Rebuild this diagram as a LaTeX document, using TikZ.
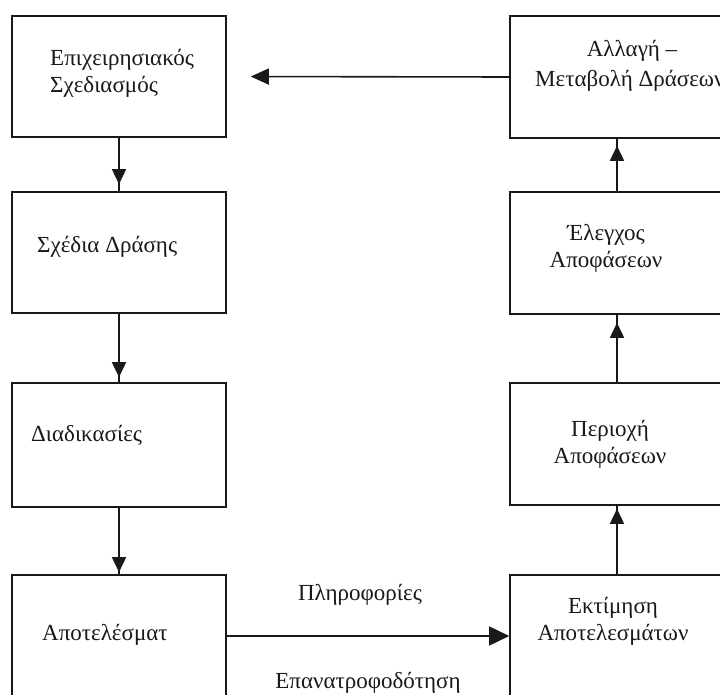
\documentclass[tikz,border=0pt]{standalone}
\usepackage{fontspec}
\setmainfont{Liberation Serif}
\usetikzlibrary{arrows.meta,decorations.markings}
\tikzset{
  box/.style={draw=black!90, line width=1.6pt, rectangle, minimum width=214pt, inner sep=0pt},
  lbl/.style={font=\fontsize{23}{27}\selectfont, inner sep=0pt, text=black!90},
  conn/.style={draw=black!90, line width=1.6pt},
  markarrow/.style={postaction=decorate, decoration={markings, mark=at position #1 with {\arrow{Triangle[length=15pt,width=14pt]}}}}
}
\begin{document}
\begin{tikzpicture}[x=1pt,y=-1pt]
\useasboundingbox (0,0) rectangle (720,695);
\clip (0,0) rectangle (720,695);
\fill[white] (0,0) rectangle (720,695);
% left column
\node[box, minimum height=121pt] (L1) at (119,76.5) {};
\node[box, minimum height=121pt] (L2) at (119,252.5) {};
\node[box, minimum height=124pt] (L3) at (119,445) {};
\node[box, minimum height=122pt] (L4) at (119,636) {};
% right column
\node[box, minimum height=122pt] (R1) at (617,77) {};
\node[box, minimum height=122pt] (R2) at (617,253) {};
\node[box, minimum height=122pt] (R3) at (617,444) {};
\node[box, minimum height=122pt] (R4) at (617,636) {};
% texts
\node[lbl, anchor=west, align=left] (t1) at (50,73) {Επιχειρησιακός\\Σχεδιασμός};
\node[lbl, anchor=west] (t2) at (37,247) {Σχέδια Δράσης};
\node[lbl, anchor=west] (t3) at (31,435) {Διαδικασίες};
\node[lbl, anchor=west] (t4) at (42,635) {Αποτελέσματ};
\node[lbl] (t5a) at (632,51) {Αλλαγή –};
\node[lbl, anchor=west] (t5b) at (535,81) {Μεταβολή Δράσεων};
\node[lbl, align=center] (t6) at (606,248) {Έλεγχος\\Αποφάσεων};
\node[lbl, align=center] (t7) at (610,444) {Περιοχή\\Αποφάσεων};
\node[lbl, align=center] (t8) at (613,621) {Εκτίμηση\\Αποτελεσμάτων};
\node[lbl] (info) at (360,595) {Πληροφορίες};
\node[lbl, anchor=base] (feed) at (368,688) {Επανατροφοδότηση};
% connectors
\draw[conn, markarrow=-7pt] (L1.south) -- (L2.north);
\draw[conn, markarrow=-5pt] (L2.south) -- (L3.north);
\draw[conn, markarrow=-2pt] (L3.south) -- (L4.north);
\draw[conn, markarrow=-3pt] (R4.north) -- (R3.south);
\draw[conn, markarrow=-8pt] (R3.north) -- (R2.south);
\draw[conn, markarrow=-7pt] (R2.north) -- (R1.south);
\draw[conn, -{Triangle[length=18pt,width=16pt]}, shorten >=24pt] (R1.west) -- (L1.east);
\draw[conn, -{Triangle[length=20pt,width=19pt]}] (L4.east) -- (R4.west);
\end{tikzpicture}
\end{document}
